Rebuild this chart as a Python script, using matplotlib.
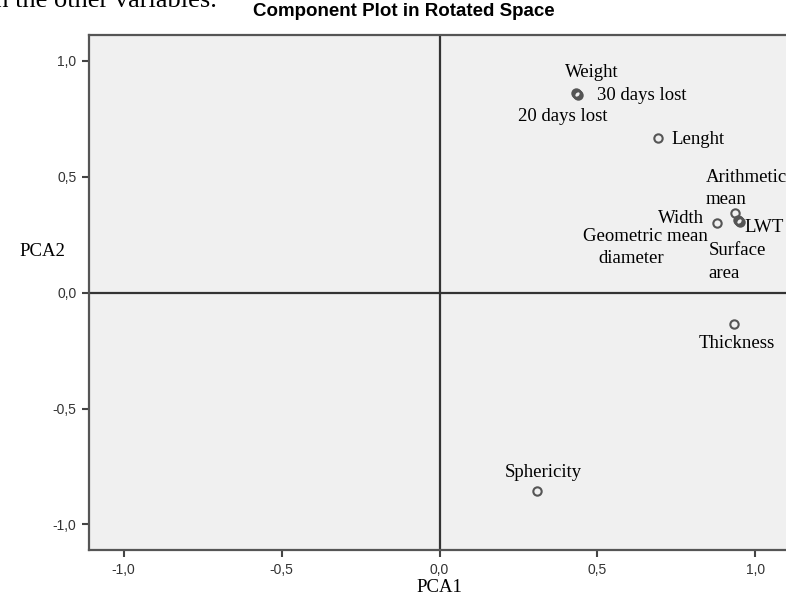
import matplotlib
matplotlib.use("Agg")
import matplotlib.pyplot as plt
from matplotlib.ticker import FuncFormatter

# ---- data (component loadings) ----
variables = ["Weight", "30 days lost", "20 days lost", "Lenght", "Width",
             "Arithmetic mean", "LWT", "Surface area", "Geometric mean diameter",
             "Thickness", "Sphericity"]
pca1 = [0.436, 0.440, 0.433, 0.692, 0.879, 0.935, 0.951, 0.948, 0.945, 0.932, 0.309]
pca2 = [0.857, 0.853, 0.860, 0.667, 0.300, 0.343, 0.305, 0.309, 0.313, -0.136, -0.857]

ticks = [-1.0, -0.5, 0.0, 0.5, 1.0]

# label placement: (text, index of variable, dx px, dy px, ha)
labels = [
    ("Weight", 0, -12, 21, "left"),
    ("30 days lost", 1, 19, -1, "left"),
    ("20 days lost", 2, -13, -23, "center"),
    ("Lenght", 3, 13, -1, "left"),
    ("Arithmetic", 5, -29, 36, "left"),
    ("mean", 5, -29, 14, "left"),
    ("Width", 4, -13, 5, "right"),
    ("LWT", 6, 5, -6, "left"),
    ("Geometric mean", 8, -92, -16, "center"),
    ("diameter", 8, -107, -38, "center"),
    ("Surface", 7, -30, -29, "left"),
    ("area", 7, -30, -52, "left"),
    ("Thickness", 9, 3, -19, "center"),
    ("Sphericity", 10, 6, 19, "center"),
]

serif = ["Liberation Serif", "DejaVu Serif"]
sans = ["Liberation Sans", "DejaVu Sans"]

fig = plt.figure(figsize=(7.86, 5.98), dpi=100)
ax = fig.add_axes([89 / 786, (598 - 550) / 598, 701 / 786, 514.7 / 598])
ax.set_facecolor("#f0f0f0")
ax.set_xlim(-1.11, 1.11)
ax.set_ylim(-1.11, 1.11)

ax.axhline(0, color="#333333", lw=1.6, zorder=1)
ax.axvline(0, color="#333333", lw=1.6, zorder=1)

ax.plot(pca1, pca2, linestyle="none", marker="o", ms=6, mfc="none",
        mec="#555555", mew=1.5, zorder=3)

for text, i, dx, dy, ha in labels:
    ax.annotate(text, (pca1[i], pca2[i]), xytext=(dx, dy),
                textcoords="offset pixels", ha=ha, va="center",
                fontsize=13.5, family=serif, color="black", zorder=4)

for s in ["left", "bottom", "top", "right"]:
    ax.spines[s].set_color("#555555")
    ax.spines[s].set_linewidth(1.6)

ax.set_xticks(ticks)
ax.set_yticks(ticks)
fmt = FuncFormatter(lambda v, p: f"{v:.1f}".replace(".", ","))
ax.xaxis.set_major_formatter(fmt)
ax.yaxis.set_major_formatter(fmt)
ax.tick_params(direction="out", length=5, width=1.5, color="#444444",
               labelsize=10, labelcolor="#333333", pad=4)
for lab in ax.get_xticklabels() + ax.get_yticklabels():
    lab.set_family(sans)

fig.text(439 / 786, 1 - 588 / 598, "PCA1", ha="center", va="center",
         fontsize=13.5, family=serif)
fig.text(42 / 786, 1 - 252 / 598, "PCA2", ha="center", va="center",
         fontsize=13.5, family=serif)
fig.text(404 / 786, 1 - 12 / 598, "Component Plot in Rotated Space",
         ha="center", va="center", fontsize=13.5, fontweight="bold", family=sans)
fig.text(-12 / 786, 1 - 1 / 598, "in the other variables.", ha="left",
         va="center", fontsize=19, family=serif)

fig.savefig("out.png", dpi=100)
